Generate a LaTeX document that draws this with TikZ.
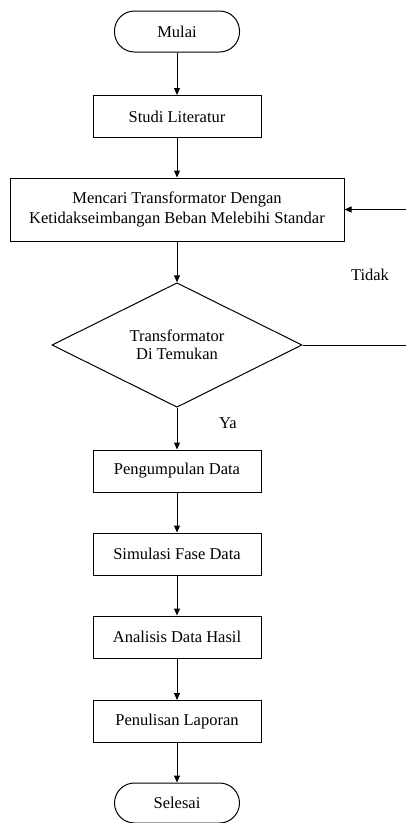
\documentclass[tikz,border=0pt]{standalone}
\usepackage{fontspec}
\setmainfont{Liberation Serif}
\usetikzlibrary{shapes.geometric,arrows.meta}
\begin{document}
\begin{tikzpicture}[x=1pt,y=-1pt, line width=1pt,
  every node/.style={font=\fontsize{16.5}{20}\selectfont},
  term/.style={draw, rounded corners=20pt, minimum width=125pt, minimum height=41pt, inner sep=0pt},
  proc/.style={draw, minimum width=168pt, minimum height=42pt, inner sep=0pt},
  bigproc/.style={draw, minimum width=334pt, minimum height=63pt, inner sep=0pt, align=center},
  dec/.style={draw, diamond, minimum width=250pt, minimum height=124pt, inner sep=0pt, align=center, font=\fontsize{16.5}{18}\selectfont},
  arr/.style={-{Triangle[width=6pt,length=7pt]}},
  lbl/.style={inner sep=0pt}]
\useasboundingbox (0,0) rectangle (406,823);

\node[term] (mulai) at (177,31.5) {Mulai};
\node[proc] (studi) at (177,116.5) {Studi Literatur};
\node[bigproc] (cari) at (177,209.5) {Mencari Transformator Dengan\\Ketidakseimbangan Beban Melebihi Standar};
\node[dec] (dec) at (177,345) {Transformator\\Di Temukan};
\node[proc] (kumpul) at (177,471) {Pengumpulan Data};
\node[proc] (simul) at (177,554) {Simulasi Fase Data};
\node[proc] (anal) at (177,637) {Analisis Data Hasil};
\node[proc] (tulis) at (177,721.5) {Penulisan Laporan};
\node[term, minimum height=40pt] (selesai) at (177,803) {Selesai};

\node[lbl] (tidak) at (370,275) {Tidak};
\node[lbl] (ya) at (228,423) {Ya};

\coordinate (kanan1) at (406,345);
\coordinate (kanan2) at (406,209.5);

\draw[arr] (mulai) -- (studi);
\draw[arr] (studi) -- (cari);
\draw[arr] (cari) -- (dec);
\draw[arr] (dec) -- (kumpul);
\draw[arr] (kumpul) -- (simul);
\draw[arr] (simul) -- (anal);
\draw[arr] (anal) -- (tulis);
\draw[arr] (tulis) -- (selesai);
\draw (dec.east) -- (kanan1);
\draw[arr] (kanan2) -- (cari.east);
\end{tikzpicture}
\end{document}
